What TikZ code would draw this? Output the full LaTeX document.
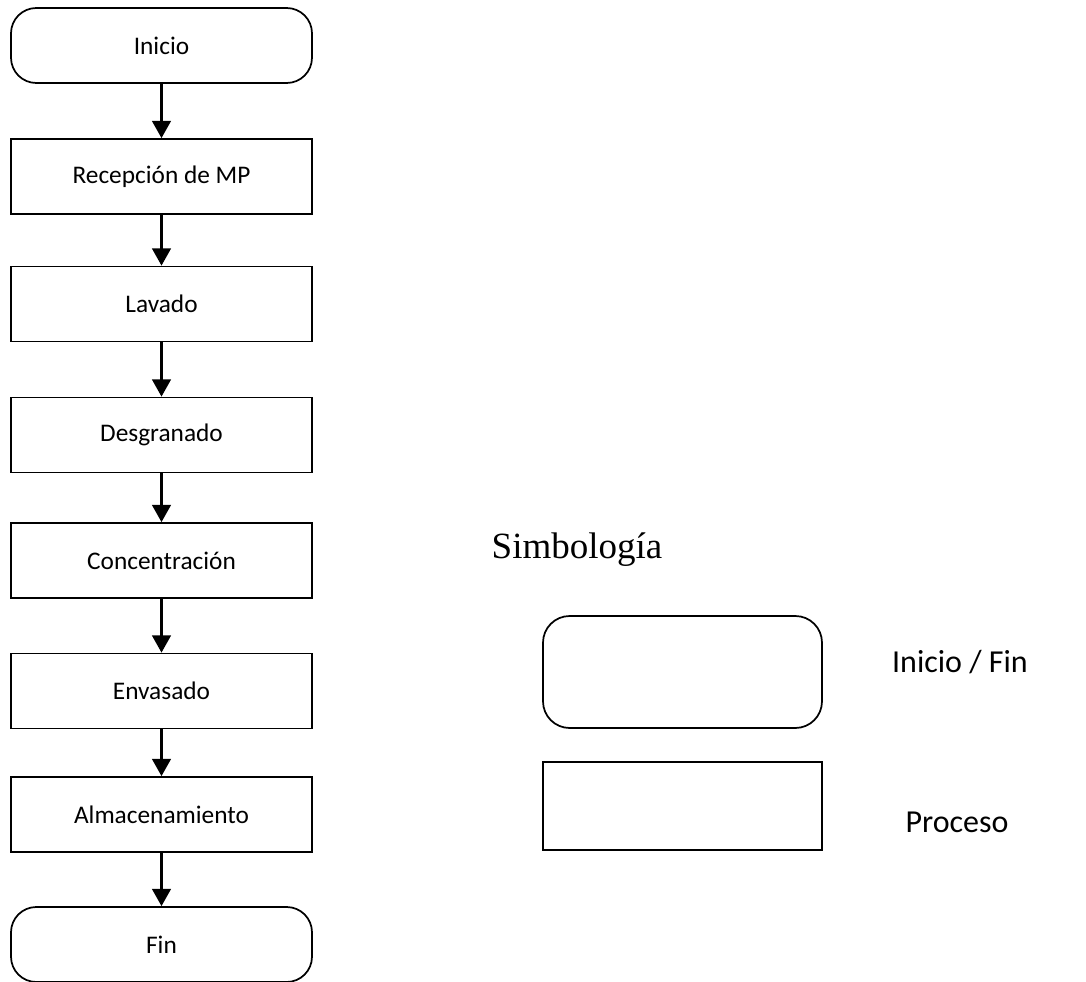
\documentclass[tikz,border=0pt]{standalone}
\usepackage{fontspec}
\setmainfont{Carlito}
\newfontfamily\serifname{Liberation Serif}
\usetikzlibrary{arrows.meta}
\begin{document}
\begin{tikzpicture}[x=0.75pt,y=-0.75pt,
  base/.style={draw=black,line width=1.3pt,minimum width=225.75pt,minimum height=56.25pt,inner sep=0pt,font=\fontsize{19}{21}\selectfont},
  procbox/.style={base},
  termbox/.style={base,rounded corners=19pt},
  flowarrow/.style={line width=2pt,-{Triangle[length=13pt,width=14pt]}},
  legtext/.style={font=\fontsize{24}{28}\selectfont}]
\useasboundingbox (0,0) rectangle (1086,982);
\node[termbox] (inicio) at (161.5,45.5) {Inicio};
\node[procbox] (recep) at (161.5,176.5) {Recepción de MP};
\node[procbox] (lavado) at (161.5,304) {Lavado};
\node[procbox] (desgr) at (161.5,435) {Desgranado};
\node[procbox] (conc) at (161.5,560.5) {Concentración};
\node[procbox] (envas) at (161.5,691) {Envasado};
\node[procbox] (almac) at (161.5,814.5) {Almacenamiento};
\node[termbox] (fin) at (161.5,944.5) {Fin};
\foreach \a/\b in {inicio/recep,recep/lavado,lavado/desgr,desgr/conc,conc/envas,envas/almac,almac/fin}
  \draw[flowarrow] (\a.south) -- (\b.north);
\node[font=\serifname\fontsize{27.75}{30}\selectfont] (simb) at (577,550) {Simbología};
\node[draw=black,line width=1.3pt,rounded corners=20pt,minimum width=209.25pt,minimum height=84pt] (legterm) at (682.5,672) {};
\node[draw=black,line width=1.3pt,minimum width=209.25pt,minimum height=66pt] (legproc) at (682.5,806) {};
\node[legtext] (lterm) at (960,662) {Inicio / Fin};
\node[legtext] (lproc) at (957,822) {Proceso};
\end{tikzpicture}
\end{document}
